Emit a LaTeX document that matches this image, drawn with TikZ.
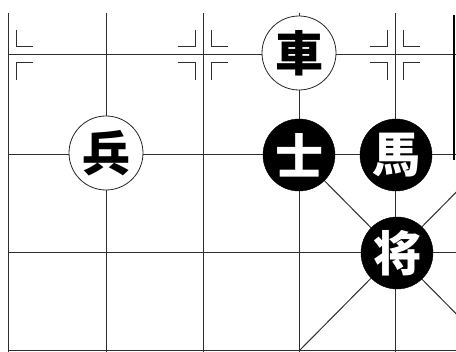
\documentclass[tikz,border=0pt]{standalone}
\usepackage{fontspec}
\newfontfamily\cjk{Noto Sans CJK SC}
\tikzset{
  gridline/.style={draw=black!82, line width=1pt},
  bracket/.style={draw=black!82, line width=1pt},
  redpiece/.style={circle, draw=black!85, line width=0.8pt, fill=white, minimum size=74pt, inner sep=0pt, font=\cjk\bfseries\fontsize{48}{48}\selectfont, text=black},
  blackpiece/.style={circle, draw=black, fill=black, minimum size=72pt, inner sep=0pt, font=\cjk\bfseries\fontsize{48}{48}\selectfont, text=white}
}
\newcommand{\brk}[4]{% x y sx sy
  \draw[bracket] ({#1+#3*8},{#2+#4*25}) -- ({#1+#3*8},{#2+#4*8}) -- ({#1+#3*25},{#2+#4*8});}
\begin{document}
\begin{tikzpicture}[x=1pt,y=-1pt]
\useasboundingbox (0,0) rectangle (456,352);
\fill[white] (0,0) rectangle (456,352);
\begin{scope}
\clip (0,0) rectangle (456,352);
% vertical lines
\foreach \x in {8,106,203,299,395} \draw[gridline] (\x,13) -- (\x,352);
% horizontal lines
\foreach \y in {55,155,253,351} \draw[gridline] (8,\y) -- (456,\y);
% palace diagonals
\draw[gridline] (299,155) -- (493,351);
\draw[gridline] (299,351) -- (493,155);
% right edge
\draw[black, line width=1.6pt] (454,15) -- (454,160);
% position marks
\brk{8}{55}{1}{-1}\brk{8}{55}{1}{1}
\foreach \sx in {-1,1} \foreach \sy in {-1,1} {\brk{203}{55}{\sx}{\sy}\brk{395}{55}{\sx}{\sy}}
\end{scope}
% pieces
\node[redpiece] (che) at (299,53) {車};
\node[redpiece] (bing) at (106,153) {兵};
\node[blackpiece] (shi) at (299,155) {士};
\node[blackpiece] (ma) at (396,155) {馬};
\node[blackpiece] (jiang) at (397,253) {将};
\end{tikzpicture}
\end{document}
